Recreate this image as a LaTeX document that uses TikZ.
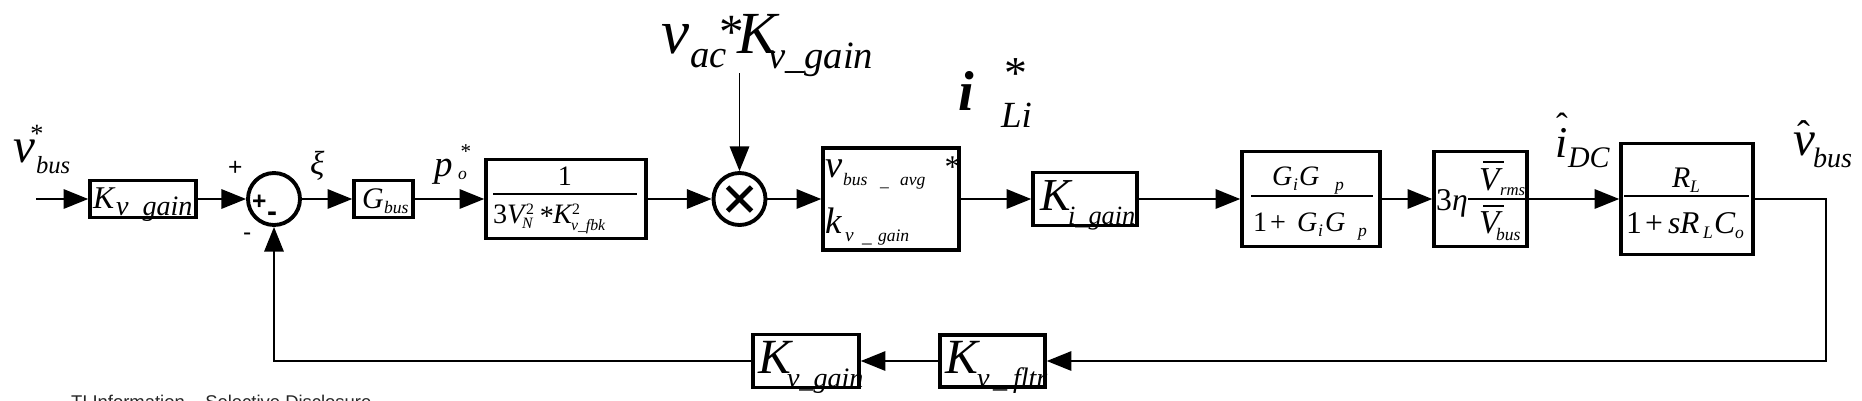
\documentclass[tikz,border=0pt]{standalone}
\usepackage{fontspec}
\setmainfont{Liberation Serif}
\newfontfamily\sansf{Liberation Sans}
\usetikzlibrary{arrows.meta}
\tikzset{
  bx/.style 2 args={draw, line width=2pt, inner sep=0pt, minimum width=#1*0.02cm, minimum height=#2*0.02cm},
  sj/.style={draw, circle, line width=2.2pt, inner sep=0pt, minimum size=#1*0.02cm},
  conn/.style={line width=1.1pt},
  arr/.style={conn, -{Triangle[length=14pt,width=11pt]}},
  lbl/.style={anchor=base west, inner sep=0pt, outer sep=0pt},
  lblc/.style={anchor=base, inner sep=0pt, outer sep=0pt},
  frac/.style={line width=0.8pt},
  crossx/.style={line width=2.8pt},
}
\newcommand\T[5]{\node[lbl,font=\fontsize{#4}{#4}\selectfont\itshape] (#1) at (#2,#3) {#5};}
\newcommand\U[5]{\node[lbl,font=\fontsize{#4}{#4}\selectfont\upshape] (#1) at (#2,#3) {#5};}
\newcommand\UC[5]{\node[lblc,font=\fontsize{#4}{#4}\selectfont\upshape] (#1) at (#2,#3) {#5};}
\newcommand\barV[1]{\rlap{\kern2.5pt\raisebox{#1}{\rule{12pt}{1pt}}}V}
\begin{document}
\begin{tikzpicture}[x=0.02cm,y=-0.02cm]
\useasboundingbox (0,0) rectangle (1862,400);
\clip (0,0) rectangle (1862,400);

% ---- blocks ----
\node[bx={106}{37}] (kvg) at (143,199) {};
\node[sj=52] (sum) at (274,199) {};
\node[bx={59}{37}] (gbus) at (383.5,199) {};
\node[bx={160}{79}] (b1) at (566,199) {};
\node[sj=52] (mult) at (739.5,199) {};
\node[bx={136}{102}] (bavg) at (891,199) {};
\node[bx={104}{53}] (ki) at (1085,199) {};
\node[bx={138}{95}] (gigp) at (1311,199) {};
\node[bx={93}{95}] (eta) at (1480.5,199) {};
\node[bx={132}{111}] (rl) at (1687,199) {};
\node[bx={106}{53}] (kvg2) at (806,361) {};
\node[bx={105}{52}] (kvf) at (992.5,361) {};

% multiplier cross
\draw[crossx] (mult.center) ++(-12,-12) -- ++(24,24);
\draw[crossx] (mult.center) ++(-12,12) -- ++(24,-24);

% ---- connectors ----
\coordinate (in) at (36,199);
\coordinate (vtop) at (739.5,73);
\coordinate (tap) at (1826,199);
\draw[arr] (in) -- (kvg.west);
\draw[arr] (kvg.east) -- (sum.west);
\draw[arr] (sum.east) -- (gbus.west);
\draw[arr] (gbus.east) -- (b1.west);
\draw[arr] (b1.east) -- (mult.west);
\draw[arr] (mult.east) -- (bavg.west);
\draw[arr] (bavg.east) -- (ki.west);
\draw[arr] (ki.east) -- (gigp.west);
\draw[arr] (gigp.east) -- (eta.west);
\draw[arr] (eta.east) -- (rl.west);
\draw[arr] (vtop) -- (mult.north);
\draw[arr] (rl.east) -- (tap) |- (kvf.east);
\draw[arr] (kvf.west) -- (kvg2.east);
\draw[arr] (kvg2.west) -| (sum.south);

% fraction bars
\draw[frac] (493,194) -- (637,194);
\draw[frac] (1251,196) -- (1373,196);
\draw[frac] (1468,199) -- (1525,199);
\draw[frac] (1624,196) -- (1749,196);

% ---- labels ----
% v*_bus input
\T{la}{13}{162}{28}{v}
\T{lb}{36}{173}{14}{bus}
\UC{lc}{37}{142}{15}{*}
% summing junction signs
\node[lbl,font=\sansf\fontsize{14}{14}\selectfont] (pl) at (228,175) {+};
\node[lbl,font=\sansf\fontsize{14}{14}\selectfont] (mi) at (243,240) {-};
\node[lbl,font=\sansf\bfseries\fontsize{14}{14}\selectfont] (ip) at (252,209) {+};
\node[lbl,font=\sansf\bfseries\fontsize{17}{17}\selectfont] (im) at (267,221) {-};
\T{xi}{310}{174}{19}{ξ}
% G_bus
\T{ga}{362}{208}{17}{G}
\T{gb}{384}{213}{10}{bus}
% p*_o
\T{pa}{434}{176}{21}{p}
\T{pb}{458}{179}{10}{o}
\UC{pc}{466}{158}{12}{*}
% 1/(3V_N^2 * K^2_v_fbk)
\UC{n1}{565}{185}{16}{1}
\U{d3}{493}{223}{16}{3}
\T{dV}{507}{223}{16}{V}
\U{d2}{526}{214}{9}{2}
\T{dN}{522}{228}{9}{N}
\UC{ds}{547}{225}{16}{*}
\T{dK}{553}{223}{16}{K}
\U{dtwo}{572}{214}{9}{2}
\T{dv}{571}{230}{9}{v\_fbk}
% v_ac * K_v_gain
\T{ma}{661}{53}{36}{v}
\T{mb}{690}{67}{22}{ac}
\UC{mc}{732}{48}{28}{*}
\T{md}{737}{53}{34}{K}
\T{me}{768}{68}{22}{v\_gain}
% i*_Li
\node[lbl,font=\fontsize{32}{32}\selectfont\bfseries\itshape] (ia) at (958,110) {i};
\UC{ib}{1015.5}{88}{26}{*}
\T{ic}{1001}{127}{21}{Li}
% v_bus_avg / k_v_gain block
\T{ba}{825}{177}{22}{v}
\T{bb}{843}{185}{10}{bus}
\T{bc}{880}{186}{10}{\_}
\T{bd}{900}{185}{10}{avg}
\UC{be}{952.5}{177}{18}{*}
\T{bf}{825}{233}{21}{k}
\T{bg}{845}{241}{11}{v}
\T{bh}{862}{242}{11}{\_}
\T{bi}{878}{241}{10}{gain}
% K_i_gain
\T{ka}{1040}{210}{26}{K}
\T{kb}{1068}{224}{15}{i\_gain}
% K_v_gain (forward)
\T{qa}{93}{208}{18}{K}
\T{qb}{116}{215}{16}{v\_gain}
% K_v_gain (feedback)
\T{ra}{758}{373}{28}{K}
\T{rb}{787}{387}{16}{v\_gain}
% K_v_fltr
\T{sa}{945}{373}{28}{K}
\T{sb}{977}{387}{16}{v}
\T{sc}{993}{387}{16}{\_}
\T{sd}{1013}{387}{16}{fltr}
% GiGp/(1+GiGp)
\T{g1}{1272}{185}{16}{G}
\T{g2}{1293}{190}{10}{i}
\T{g3}{1299}{185}{16}{G}
\T{g4}{1335}{190}{10}{p}
\U{g5}{1253}{231}{16}{1}
\U{g6}{1270}{231}{16}{+}
\T{g7}{1297}{231}{16}{G}
\T{g8}{1318}{236}{10}{i}
\T{g9}{1325}{231}{16}{G}
\T{g10}{1358}{236}{10}{p}
% 3 eta Vrms/Vbus
\U{e1}{1436}{210}{18}{3}
\T{e2}{1452}{210}{18}{η}
\T{e3}{1479}{190}{19}{\barV{15.4pt}}
\T{e4}{1500}{195}{9.5}{rms}
\T{e5}{1479}{233}{19}{\barV{14.9pt}}
\T{e6}{1496}{240}{10}{bus}
% i_DC
\T{ca}{1555}{157}{25}{i}
\UC{cb}{1562}{137}{20}{ˆ}
\T{cc}{1568}{167}{17}{DC}
% v_bus hat
\T{va}{1793}{155}{28}{v}
\UC{vb}{1804}{147}{22}{ˆ}
\T{vc}{1813}{167}{16}{bus}
% R_L/(1+sR_LC_o)
\T{r1}{1672}{187}{17}{R}
\T{r2}{1690}{192}{10}{L}
\U{r3}{1626}{233}{18}{1}
\U{r4}{1645}{233}{18}{+}
\T{r5}{1668}{233}{18}{s}
\T{r6}{1680}{233}{18}{R}
\T{r7}{1703}{238}{10}{L}
\T{r8}{1714}{233}{18}{C}
\T{r9}{1735}{238}{10}{o}
% footer
\node[lbl,font=\sansf\fontsize{10.5}{10.5}\selectfont,text=black!85] (ti) at (71,408) {TI Information – Selective Disclosure};
\end{tikzpicture}
\end{document}
